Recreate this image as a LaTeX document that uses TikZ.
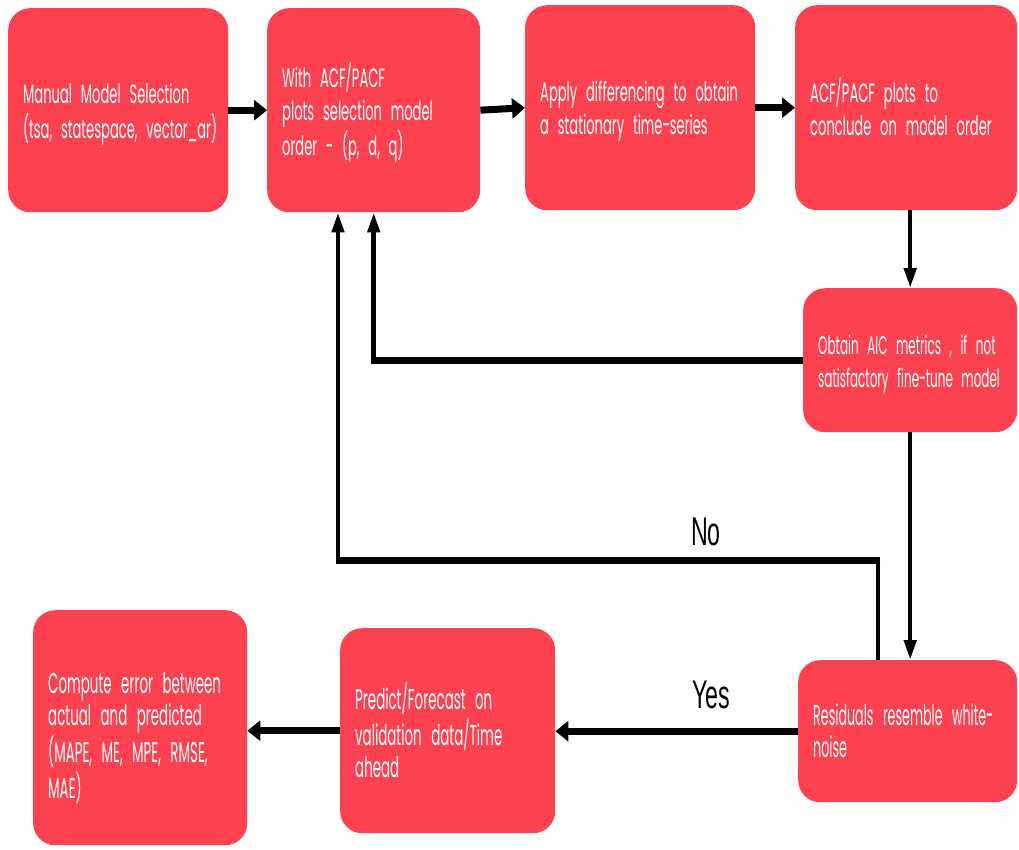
\documentclass[tikz,border=0pt]{standalone}
\usepackage{fontspec}
\setmainfont[FakeStretch=0.494]{Poppins}
\newfontfamily\narrowfont[FakeStretch=0.47]{Poppins}
\newfontfamily\narrowerfont[FakeStretch=0.445]{Poppins}
\newfontfamily\labelfont[FakeStretch=0.58]{Liberation Sans}
\usetikzlibrary{arrows.meta}
\definecolor{boxred}{RGB}{252,66,80}
% stack of unbreakable lines, left aligned, optionally set lower in its box
\newcommand\textlines[2][4pt]{\raisebox{-#1}[\height][\depth]{\begin{tabular}{@{}l@{}}#2\end{tabular}}}
\begin{document}
\begin{tikzpicture}[x=1pt,y=-1pt,
  stepbox/.style={fill=boxred, draw=none, rounded corners=22pt, text=white,
    align=left, inner xsep=15pt, inner ysep=0pt, anchor=north west,
    font=\fontsize{26.5}{33}\selectfont},
  lowbox/.style={stepbox, font=\narrowfont\fontsize{28.5}{32}\selectfont},
  hflow/.style={line width=7pt, -{Triangle[length=13pt,width=20pt]}},
  vflow/.style={line width=4.5pt, -{Triangle[length=20pt,width=12pt]}},
  hbar/.style={line width=7pt},
  answer/.style={font=\labelfont\fontsize{40}{40}\selectfont, inner sep=0pt}
]
\useasboundingbox (0,0) rectangle (1019,849);

% process steps
\node[stepbox, text width=190pt, minimum height=204pt] (A) at (8,8)
  {\textlines{Manual Model Selection\\(tsa, statespace, vector\_ar)}};
\node[stepbox, text width=183pt, minimum height=204pt] (B) at (267,8)
  {\textlines{With ACF/PACF\\plots selection model\\order - (p, d, q)}};
\node[stepbox, text width=200pt, minimum height=205pt] (C) at (525,5)
  {\textlines{Apply differencing to obtain\\a stationary time-series}};
\node[stepbox, text width=192pt, minimum height=205pt] (D) at (795,5)
  {\textlines{ACF/PACF plots to\\conclude on model order}};
\node[stepbox, text width=184pt, minimum height=144pt, font=\narrowfont\fontsize{25.5}{33}\selectfont] (E) at (803,288)
  {\textlines{Obtain AIC metrics , if not\\satisfactory fine-tune model}};
\node[lowbox, text width=189pt, minimum height=142pt, font=\narrowerfont\fontsize{28.5}{32}\selectfont] (F) at (798,660)
  {\textlines{Residuals resemble white-\\noise}};
\node[lowbox, text width=185pt, minimum height=205pt] (G) at (340,628)
  {\textlines{Predict/Forecast on\\validation data/Time\\ahead}};
\node[lowbox, text width=184pt, minimum height=235pt] (H) at (33,610)
  {\textlines[12pt]{Compute error between\\actual and predicted\\(MAPE, ME, MPE, RMSE,\\MAE)}};

% main sequence
\draw[hflow] (A) -- (B);
\draw[hflow] (B.east) -- (C.west);
\draw[hflow] (C) -- (D);
\draw[vflow] (D.south -| E.north) -- (E.north);
\draw[vflow] (E.south) -- (E.south |- F.north);

% fine-tune loop back to order selection
\draw[vflow] (E.west) -| (B.south);
\draw[hbar] (E.west) -- ([xshift=-2.25pt]E.west -| B.south);

% decision on residuals
\coordinate (noR) at (878,560);
\coordinate (noL) at (338,560);
\draw[vflow] (F.north -| noR) -- (noR) -- (noL) -- (noL |- B.south);
\draw[hbar] ([xshift=2.25pt]noR) -- ([xshift=-2.25pt]noL);
\node[answer] (no) at (706,532) {No};

\draw[hflow] (F.west) -- (F.west -| G.east);
\node[answer] (yes) at (711,695) {Yes};
\draw[hflow] (G.west) -- (G.west -| H.east);
\end{tikzpicture}
\end{document}
